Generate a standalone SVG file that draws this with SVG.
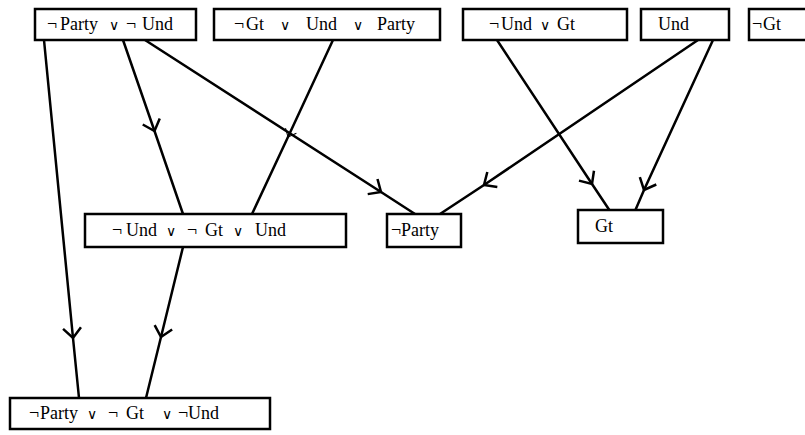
<svg xmlns="http://www.w3.org/2000/svg" width="805" height="435" viewBox="0 0 805 435">
  <style>
    .box { fill: #fff; stroke: #000; stroke-width: 2.5; }
    text { font-family: 'Liberation Serif', 'Times New Roman', serif; font-size: 18px; fill: #000; }
    .or { font-size: 14px; }
    .edge { fill: none; stroke: #000; stroke-width: 2.5; marker-mid: url(#vee); }
    .edge.thin { marker-mid: url(#veeThin); }
  </style>
  <defs>
    <marker id="vee" markerUnits="userSpaceOnUse" markerWidth="30" markerHeight="30" refX="0" refY="0" viewBox="-15 -15 30 30" orient="auto" overflow="visible">
      <path d="M -10 -9 L 0 0 L -10 9" fill="none" stroke="#000" stroke-width="2.5"/>
    </marker>
    <marker id="veeThin" markerUnits="userSpaceOnUse" markerWidth="30" markerHeight="30" refX="0" refY="0" viewBox="-15 -15 30 30" orient="auto" overflow="visible">
      <path d="M -7 -6 L 0 0 L -7 6" fill="none" stroke="#000" stroke-width="1"/>
    </marker>
  </defs>

  <!-- connectors: each path has a middle vertex carrying the arrowhead -->
  <g id="connectors">
    <path class="edge" d="M 44 40 L 73 338 L 79 398"/>
    <path class="edge" d="M 123 40 L 154.5 131 L 183 214"/>
    <path class="edge" d="M 145 40 L 381 192 L 415 214"/>
    <path class="edge thin" d="M 333 40 L 288 137 L 252 214"/>
    <path class="edge" d="M 183 247 L 161 337 L 146 398"/>
    <path class="edge" d="M 497 40 L 592 184 L 610 211"/>
    <path class="edge" d="M 698 40 L 484 185 L 440 214"/>
    <path class="edge" d="M 713 40 L 644 190 L 635 211"/>
  </g>

  <g id="n1">
    <rect class="box" x="35" y="9" width="161" height="31"/>
    <text y="30"><tspan x="47">¬</tspan><tspan x="60">Party</tspan><tspan class="or" x="109">∨</tspan><tspan x="126">¬</tspan><tspan x="142">Und</tspan></text>
  </g>
  <g id="n2">
    <rect class="box" x="214" y="9" width="226" height="31"/>
    <text y="30"><tspan x="234">¬</tspan><tspan x="246">Gt</tspan><tspan class="or" x="280">∨</tspan><tspan x="306">Und</tspan><tspan class="or" x="353">∨</tspan><tspan x="377">Party</tspan></text>
  </g>
  <g id="n3">
    <rect class="box" x="463" y="9" width="164" height="31"/>
    <text y="30"><tspan x="489">¬</tspan><tspan x="501">Und</tspan><tspan class="or" x="540">∨</tspan><tspan x="557">Gt</tspan></text>
  </g>
  <g id="n4">
    <rect class="box" x="641" y="9" width="88" height="31"/>
    <text x="658" y="30">Und</text>
  </g>
  <g id="n5">
    <rect class="box" x="749" y="9" width="70" height="31"/>
    <text y="30"><tspan x="752">¬</tspan><tspan x="763">Gt</tspan></text>
  </g>
  <g id="n6">
    <rect class="box" x="85" y="214" width="261" height="33"/>
    <text y="236"><tspan x="112">¬</tspan><tspan x="126">Und</tspan><tspan class="or" x="166">∨</tspan><tspan x="187">¬</tspan><tspan x="205">Gt</tspan><tspan class="or" x="233">∨</tspan><tspan x="255">Und</tspan></text>
  </g>
  <g id="n7">
    <rect class="box" x="387" y="214" width="74" height="33"/>
    <text y="236"><tspan x="391">¬</tspan><tspan x="401">Party</tspan></text>
  </g>
  <g id="n8">
    <rect class="box" x="578" y="210" width="85" height="33"/>
    <text x="595" y="232">Gt</text>
  </g>
  <g id="n9">
    <rect class="box" x="10" y="398" width="260" height="31"/>
    <text y="419"><tspan x="29">¬</tspan><tspan x="40">Party</tspan><tspan class="or" x="87">∨</tspan><tspan x="108">¬</tspan><tspan x="126">Gt</tspan><tspan class="or" x="162">∨</tspan><tspan x="178">¬</tspan><tspan x="188">Und</tspan></text>
  </g>
</svg>
